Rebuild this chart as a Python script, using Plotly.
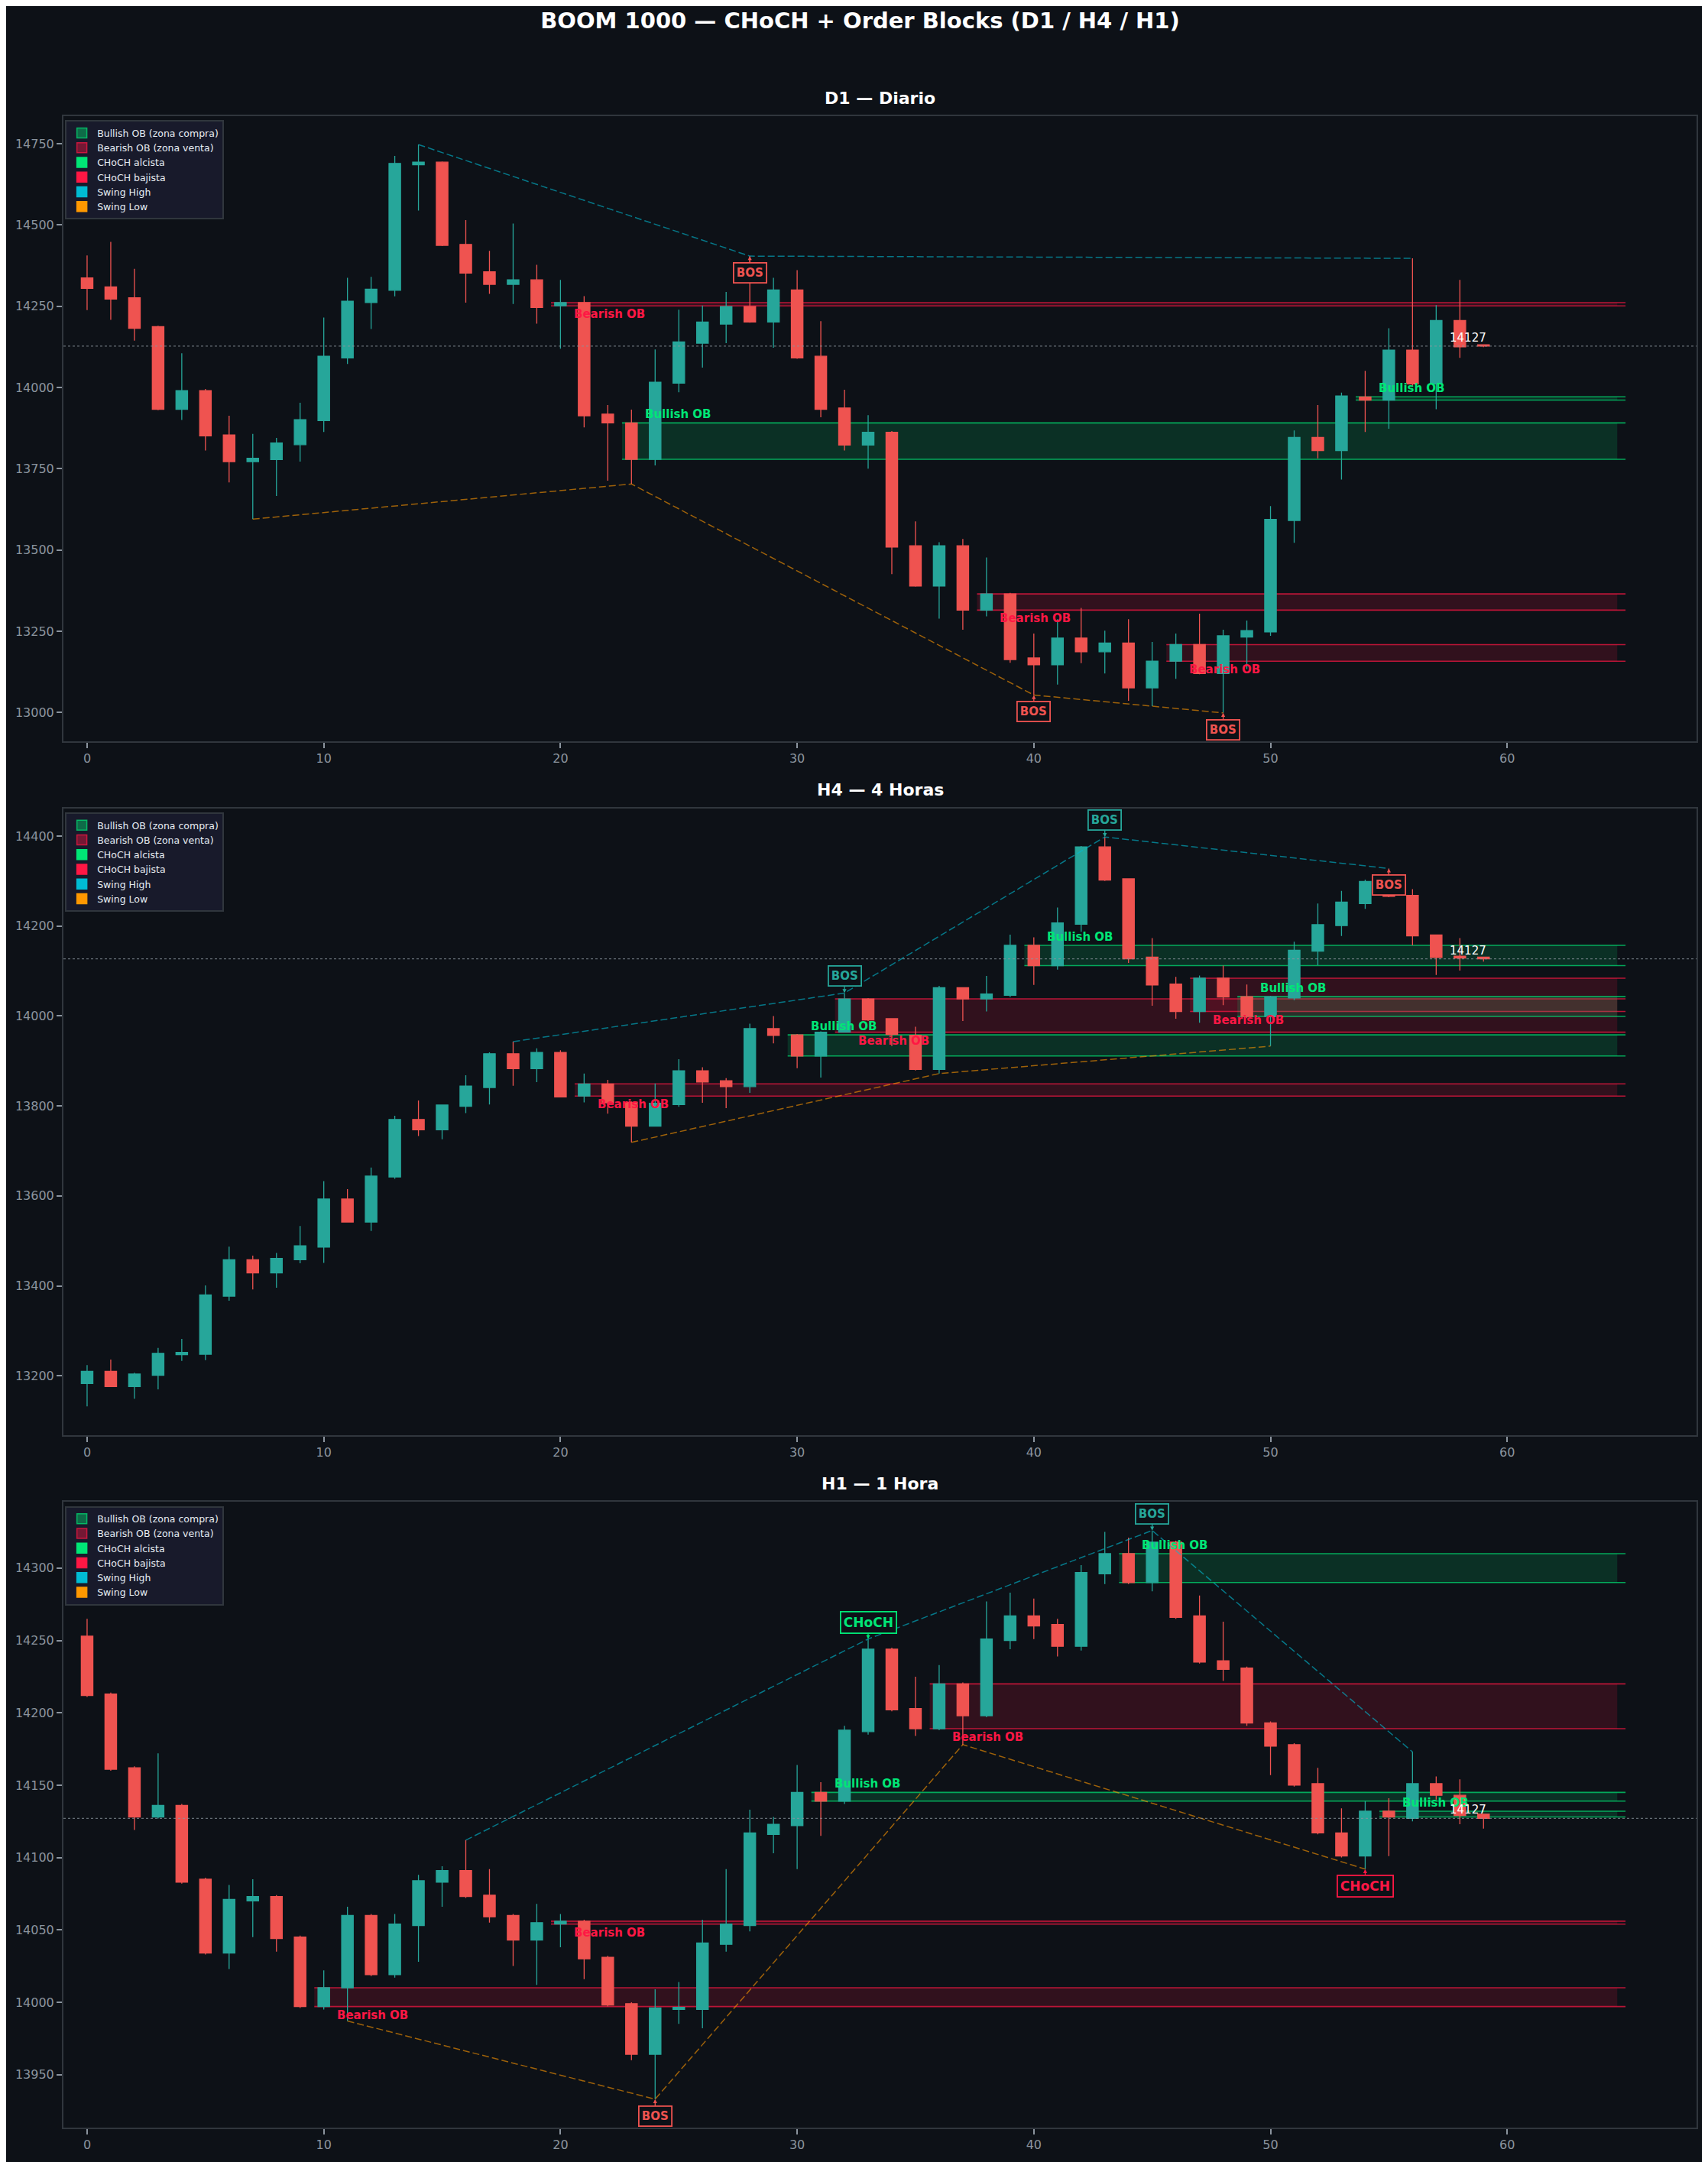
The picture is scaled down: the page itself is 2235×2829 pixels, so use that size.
import plotly.graph_objects as go
from plotly.subplots import make_subplots

# ---- D1 ----
d1_open = [14337, 14309, 14276, 14187, 13933, 13990, 13854, 13772, 13778, 13824,
           13898, 14091, 14261, 14299, 14685, 14693, 14440, 14356, 14317, 14331,
           14251, 14261, 13918, 13891, 13779, 14013, 14136, 14195, 14249, 14201,
           14300, 14096, 13937, 13823, 13862, 13513, 13389, 13513, 13315, 13365,
           13168, 13147, 13229, 13187, 13214, 13076, 13158, 13209, 13120, 13232,
           13248, 13591, 13846, 13806, 13971, 13961, 14115, 14011, 14206, 14131]
d1_high = [14406, 14448, 14365, 14190, 14105, 13995, 13913, 13857, 13845, 13953,
           14215, 14337, 14340, 14712, 14747, 14695, 14515, 14420, 14504, 14377,
           14331, 14281, 13946, 13932, 14117, 14239, 14252, 14294, 14404, 14337,
           14361, 14204, 13993, 13915, 13866, 13588, 13524, 13534, 13477, 13368,
           13243, 13287, 13322, 13252, 13287, 13217, 13243, 13304, 13255, 13283,
           13635, 13868, 13946, 13984, 14051, 14182, 14397, 14253, 14331, 14133]
d1_low = [14238, 14208, 14144, 13930, 13900, 13806, 13708, 13595, 13666, 13772,
          13863, 14072, 14180, 14280, 14544, 14435, 14261, 14288, 14257, 14196,
          14119, 13877, 13713, 13703, 13760, 13985, 14061, 14136, 14199, 14122,
          14088, 13908, 13806, 13750, 13426, 13387, 13289, 13255, 13296, 13153,
          13054, 13086, 13152, 13120, 13036, 13020, 13104, 13118, 12999, 13134,
          13236, 13522, 13782, 13717, 13863, 13873, 14005, 13933, 14091, 14124]
d1_close = [14305, 14272, 14182, 13933, 13990, 13851, 13772, 13782, 13829, 13901,
            14096, 14265, 14302, 14689, 14693, 14437, 14352, 14317, 14331, 14246,
            14261, 13913, 13891, 13779, 14016, 14140, 14201, 14249, 14201, 14300,
            14091, 13933, 13823, 13862, 13509, 13389, 13513, 13315, 13365, 13163,
            13147, 13229, 13187, 13214, 13076, 13158, 13209, 13120, 13236, 13252,
            13594, 13846, 13806, 13974, 13961, 14115, 14011, 14206, 14125, 14127]
d1_ob_idx = [20, 23, 38, 46, 54]
d1_ob_kind = ["bear", "bull", "bear", "bear", "bull"]
d1_swing_high = [14, 28, 56]
d1_swing_low = [7, 23, 40, 48]
d1_sig_idx = [28, 40, 48]
d1_sig_text = ["BOS", "BOS", "BOS"]
d1_sig_kind = ["bos_bear", "bos_bear", "bos_bear"]
d1_sig_at = ["high_below", "low", "low"]

# ---- H4 ----
h4_open = [13183, 13210, 13176, 13201, 13247, 13248, 13377, 13458, 13429, 13458,
           13486, 13593, 13542, 13642, 13770, 13747, 13799, 13841, 13916, 13883,
           13919, 13822, 13849, 13808, 13755, 13803, 13878, 13856, 13843, 13972,
           13958, 13911, 13964, 14038, 13994, 13957, 13881, 14063, 14038, 14046,
           14157, 14112, 14204, 14376, 14305, 14131, 14071, 14010, 14084, 14043,
           13999, 14040, 14144, 14201, 14250, 14272, 14268, 14180, 14133, 14131]
h4_high = [13224, 13236, 13207, 13262, 13282, 13401, 13487, 13467, 13473, 13533,
           13633, 13615, 13663, 13778, 13812, 13803, 13868, 13919, 13943, 13928,
           13924, 13872, 13858, 13810, 13850, 13904, 13886, 13862, 13983, 14000,
           13960, 13966, 14051, 14040, 13994, 13976, 14067, 14064, 14089, 14181,
           14175, 14241, 14378, 14398, 14306, 14173, 14087, 14090, 14112, 14070,
           14045, 14165, 14250, 14278, 14303, 14328, 14282, 14181, 14173, 14132]
h4_low = [13132, 13175, 13149, 13170, 13233, 13235, 13367, 13392, 13396, 13450,
          13451, 13541, 13522, 13638, 13733, 13726, 13784, 13803, 13845, 13853,
          13819, 13808, 13783, 13719, 13754, 13798, 13807, 13795, 13829, 13939,
          13884, 13863, 13963, 13989, 13933, 13879, 13872, 13989, 14010, 14042,
          14069, 14103, 14187, 14300, 14118, 14023, 13994, 13985, 14024, 13995,
          13933, 14035, 14113, 14178, 14238, 14264, 14157, 14091, 14101, 14121]
h4_close = [13210, 13176, 13204, 13250, 13252, 13380, 13458, 13429, 13461, 13489,
            13593, 13542, 13644, 13770, 13747, 13802, 13844, 13916, 13883, 13919,
            13820, 13849, 13807, 13755, 13806, 13878, 13853, 13843, 13972, 13957,
            13911, 13964, 14038, 13991, 13959, 13881, 14063, 14038, 14049, 14157,
            14112, 14207, 14376, 14302, 14127, 14069, 14010, 14084, 14042, 13999,
            14043, 14146, 14203, 14253, 14299, 14266, 14178, 14130, 14129, 14127]
h4_ob_idx = [21, 30, 32, 40, 47, 49]
h4_ob_kind = ["bear", "bull", "bear", "bull", "bear", "bull"]
h4_swing_high = [18, 32, 43, 55]
h4_swing_low = [23, 36, 50]
h4_sig_idx = [32, 43, 55]
h4_sig_text = ["BOS", "BOS", "BOS"]
h4_sig_kind = ["bos_bull", "bos_bull", "bos_bear"]
h4_sig_at = ["high", "high", "high_below"]

# ---- H1 ----
h1_open = [14253, 14213, 14162, 14128, 14136, 14085, 14034, 14070, 14073, 14045,
           13997, 14010, 14060, 14019, 14053, 14083, 14091, 14074, 14060, 14043,
           14054, 14056, 14031, 13999, 13964, 13995, 13995, 14040, 14053, 14116,
           14122, 14145, 14139, 14187, 14244, 14203, 14189, 14220, 14198, 14250,
           14267, 14261, 14246, 14296, 14310, 14290, 14318, 14267, 14236, 14231,
           14193, 14178, 14151, 14117, 14101, 14132, 14127, 14151, 14143, 14130]
h1_high = [14265, 14214, 14163, 14172, 14137, 14086, 14081, 14085, 14074, 14046,
           14022, 14066, 14061, 14061, 14088, 14094, 14112, 14092, 14061, 14068,
           14061, 14057, 14032, 14000, 14009, 14014, 14057, 14092, 14133, 14128,
           14164, 14152, 14191, 14251, 14245, 14225, 14233, 14221, 14277, 14283,
           14279, 14265, 14302, 14325, 14321, 14326, 14319, 14281, 14263, 14232,
           14194, 14179, 14162, 14134, 14139, 14141, 14173, 14156, 14154, 14130]
h1_low = [14211, 14160, 14119, 14127, 14082, 14033, 14023, 14045, 14035, 13996,
          13995, 13987, 14018, 14017, 14028, 14066, 14072, 14055, 14025, 14012,
          14038, 14016, 13997, 13960, 13933, 13985, 13982, 14035, 14049, 14103,
          14092, 14115, 14137, 14185, 14201, 14184, 14188, 14178, 14197, 14244,
          14251, 14239, 14243, 14289, 14289, 14284, 14265, 14234, 14222, 14191,
          14157, 14149, 14116, 14100, 14092, 14101, 14125, 14140, 14123, 14120]
h1_close = [14212, 14161, 14128, 14136, 14083, 14034, 14071, 14073, 14044, 13997,
            14010, 14060, 14019, 14054, 14084, 14091, 14073, 14059, 14043, 14055,
            14056, 14030, 13998, 13964, 13996, 13996.5, 14041, 14054, 14117, 14123,
            14145, 14139, 14188, 14244, 14202, 14189, 14220, 14198, 14251, 14267,
            14260, 14246, 14297, 14310, 14290, 14318, 14266, 14235, 14230, 14193,
            14177, 14150, 14117, 14101, 14132, 14128, 14151, 14143, 14129, 14127]
h1_ob_idx = [10, 20, 31, 36, 44, 55]
h1_ob_kind = ["bear", "bear", "bull", "bear", "bull", "bull"]
h1_swing_high = [16, 33, 45, 56]
h1_swing_low = [11, 24, 37, 54]
h1_sig_idx = [24, 33, 45, 54]
h1_sig_text = ["BOS", "CHoCH", "BOS", "CHoCH"]
h1_sig_kind = ["bos_bear", "choch_bull", "bos_bull", "choch_bear"]
h1_sig_at = ["low", "high", "high", "low"]

last_price = 14127
panel_titles = ["D1 — Diario", "H4 — 4 Horas", "H1 — 1 Hora"]
legend_labels = ["Bullish OB (zona compra)", "Bearish OB (zona venta)", "CHoCH alcista",
                 "CHoCH bajista", "Swing High", "Swing Low"]

BG = "#0d1117"
GREEN = "#26a69a"
RED = "#ef5350"
BULL = "#00e676"
BEAR = "#ff1744"
CYAN = "#00bcd4"
ORANGE = "#ff9800"
GRID = "#30363d"
TXT = "#8b949e"
FONT = "DejaVu Sans"

SIG_COLORS = {"bos_bear": RED, "bos_bull": GREEN, "choch_bull": BULL, "choch_bear": BEAR}

fig = make_subplots(rows=3, cols=1)


def draw_panel(row, o, h, l, c, ob_idx, ob_kind, sh, sl, sig_idx, sig_text, sig_kind, sig_at):
    x = list(range(len(o)))
    fig.add_trace(go.Candlestick(
        x=x, open=o, high=h, low=l, close=c, whiskerwidth=0,
        increasing=dict(line=dict(color=GREEN, width=1.3), fillcolor=GREEN),
        decreasing=dict(line=dict(color=RED, width=1.3), fillcolor=RED),
        showlegend=False, hoverinfo="skip"), row=row, col=1)

    # order blocks: zone = body of the OB candle, extended to the right
    for i, kind in zip(ob_idx, ob_kind):
        top, bot = max(o[i], c[i]), min(o[i], c[i])
        if kind == "bull":
            fill, edge, col = "rgba(0,230,118,0.15)", "rgba(0,230,118,0.7)", BULL
        else:
            fill, edge, col = "rgba(255,23,68,0.15)", "rgba(255,23,68,0.7)", BEAR
        fig.add_shape(type="rect", x0=i - 0.4, x1=64.65, y0=bot, y1=top, fillcolor=fill,
                      line_width=0, layer="below", row=row, col=1)
        for yy in (top, bot):
            fig.add_shape(type="line", x0=i - 0.4, x1=65, y0=yy, y1=yy,
                          line=dict(color=edge, width=1.6), layer="below", row=row, col=1)
        label = "Bullish OB" if kind == "bull" else "Bearish OB"
        fig.add_annotation(x=i + 0.5, y=top if kind == "bull" else bot, text="<b>%s</b>" % label,
                           showarrow=False, xanchor="left",
                           yanchor="bottom" if kind == "bull" else "top",
                           font=dict(family=FONT, size=15, color=col), row=row, col=1)

    # swing structure
    fig.add_trace(go.Scatter(x=sh, y=[h[i] for i in sh], mode="lines", showlegend=False,
                             line=dict(color="rgba(0,188,212,0.6)", width=1.5, dash="9px,4px"),
                             hoverinfo="skip"), row=row, col=1)
    fig.add_trace(go.Scatter(x=sl, y=[l[i] for i in sl], mode="lines", showlegend=False,
                             line=dict(color="rgba(255,152,0,0.6)", width=1.5, dash="9px,4px"),
                             hoverinfo="skip"), row=row, col=1)

    # BOS / CHoCH marks
    for i, t, k, at in zip(sig_idx, sig_text, sig_kind, sig_at):
        col = SIG_COLORS[k]
        price = l[i] if at == "low" else h[i]
        ay = -22 if at == "high" else 22
        fig.add_annotation(x=i, y=price, text="<b>%s</b>" % t, showarrow=True, ax=0, ay=ay,
                           arrowhead=2, arrowsize=0.8, arrowwidth=1.3, arrowcolor=col,
                           font=dict(family=FONT, size=17 if t == "CHoCH" else 15, color=col),
                           bgcolor=BG, bordercolor=col, borderwidth=1.8, borderpad=3,
                           row=row, col=1)

    # last price
    fig.add_hline(y=last_price, line=dict(color="rgba(139,148,158,0.7)", width=1.2, dash="dot"),
                  row=row, col=1)
    fig.add_annotation(x=57.5, y=last_price, text=str(last_price), showarrow=False,
                       xanchor="left", yanchor="bottom",
                       font=dict(family=FONT, size=15, color="white"), row=row, col=1)

    lo, hi = min(l), max(h)
    pad = (hi - lo) * 0.05
    return [lo - pad, hi + pad]


panels = [
    (d1_open, d1_high, d1_low, d1_close, d1_ob_idx, d1_ob_kind, d1_swing_high, d1_swing_low,
     d1_sig_idx, d1_sig_text, d1_sig_kind, d1_sig_at),
    (h4_open, h4_high, h4_low, h4_close, h4_ob_idx, h4_ob_kind, h4_swing_high, h4_swing_low,
     h4_sig_idx, h4_sig_text, h4_sig_kind, h4_sig_at),
    (h1_open, h1_high, h1_low, h1_close, h1_ob_idx, h1_ob_kind, h1_swing_high, h1_swing_low,
     h1_sig_idx, h1_sig_text, h1_sig_kind, h1_sig_at),
]
domains = [[0.6892, 1.0], [0.3444, 0.6558], [0.0, 0.311]]
dticks = [250, 200, 50]
legend_tops = [0.998, 0.6538, 0.309]

legend_fill = ["rgba(0,230,118,0.4)", "rgba(255,23,68,0.4)", BULL, BEAR, CYAN, ORANGE]
legend_edge = ["rgba(0,230,118,0.7)", "rgba(255,23,68,0.7)", BULL, BEAR, CYAN, ORANGE]

for r, p in enumerate(panels, start=1):
    yr = draw_panel(r, *p)
    sfx = "" if r == 1 else str(r)
    fig.update_yaxes(range=yr, dtick=dticks[r - 1], domain=domains[r - 1], row=r, col=1)
    fig.add_annotation(xref="x%s domain" % sfx, yref="y%s domain" % sfx, x=0.5, y=1,
                       yshift=24, yanchor="middle", showarrow=False,
                       text="<b>%s</b>" % panel_titles[r - 1],
                       font=dict(family=FONT, size=22, color="white"))
    leg = "legend" if r == 1 else "legend%d" % r
    for name, fc, ec in zip(legend_labels, legend_fill, legend_edge):
        fig.add_trace(go.Scatter(x=[None], y=[None], mode="markers", name=name, legend=leg,
                                 marker=dict(symbol="square", size=13, color=fc,
                                             line=dict(color=ec, width=1.5))),
                      row=r, col=1)
    fig.update_layout({leg: dict(x=0.001, y=legend_tops[r - 1], xanchor="left", yanchor="top",
                                 bgcolor="#181a2b", bordercolor=GRID, borderwidth=2,
                                 font=dict(family=FONT, size=12.5, color="#e6edf3"),
                                 tracegroupgap=0, itemwidth=30)})

fig.update_xaxes(range=[-1, 68], dtick=10, tick0=0, rangeslider_visible=False, showgrid=False,
                 zeroline=False, showline=True, mirror=True, linecolor=GRID, linewidth=2,
                 ticks="outside", ticklen=7, tickwidth=1.5, tickcolor=TXT,
                 tickfont=dict(family=FONT, size=16, color=TXT))
fig.update_yaxes(showgrid=False, zeroline=False, showline=True, mirror=True, linecolor=GRID,
                 linewidth=2, ticks="outside", ticklen=7, tickwidth=1.5, tickcolor=TXT,
                 tickformat="d", tickfont=dict(family=FONT, size=16, color=TXT))

# the page body adds an 8px offset; margins are trimmed to keep the axes where the reference has them
fig.update_layout(
    width=2235, height=2829,
    paper_bgcolor=BG, plot_bgcolor=BG,
    margin=dict(l=68, r=23, t=144, b=53),
    title=dict(text="<b>BOOM 1000 — CHoCH + Order Blocks (D1 / H4 / H1)</b>",
               x=0.5, xanchor="center", y=1 - 19 / 2829, yanchor="middle",
               font=dict(family=FONT, size=29, color="white")),
    font=dict(family=FONT, color=TXT),
    boxgap=0.3,
)

fig.write_html("out.html")
